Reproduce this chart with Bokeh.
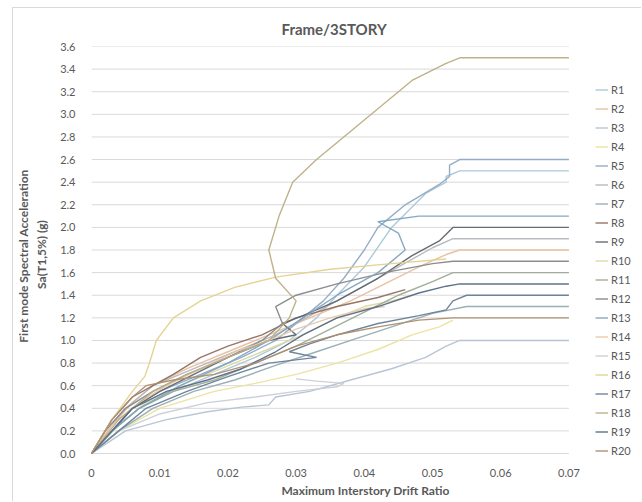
from bokeh.plotting import figure
from bokeh.models import Legend, LegendItem, NumeralTickFormatter, FixedTicker, Range1d
from bokeh.embed import file_html
from bokeh.resources import INLINE

# ---------------- data (drift ratio, Sa) per record ----------------
names = ["R1", "R2", "R3", "R4", "R5", "R6", "R7", "R8", "R9", "R10",
         "R11", "R12", "R13", "R14", "R15", "R16", "R17", "R18", "R19", "R20"]
colors = ["#a9c6d8", "#e8bf9e", "#b3c3d3", "#ebe29f", "#8fa9c2", "#b4b6bd",
          "#93acb3", "#8f6f60", "#5e656e", "#dcd8a2", "#9caa94", "#85878c",
          "#7fa3bf", "#e8c7aa", "#c9ced6", "#e4d18d", "#687e96", "#bcae84",
          "#566b86", "#ad8c6c"]

R1_drift = [0, 0.003, 0.007, 0.012, 0.018, 0.024, 0.029, 0.033, 0.036, 0.040, 0.044, 0.049, 0.052, 0.052, 0.054, 0.07]
R1_sa = [0, 0.2, 0.4, 0.55, 0.7, 0.85, 1.0, 1.2, 1.4, 1.65, 2.0, 2.3, 2.4, 2.45, 2.5, 2.5]
R2_drift = [0, 0.003, 0.006, 0.009, 0.014, 0.020, 0.026, 0.032, 0.038, 0.043, 0.048, 0.052, 0.054, 0.07]
R2_sa = [0, 0.25, 0.45, 0.6, 0.75, 0.9, 1.05, 1.2, 1.35, 1.5, 1.65, 1.76, 1.8, 1.8]
R3_drift = [0, 0.005, 0.011, 0.017, 0.022, 0.026, 0.027, 0.032, 0.038, 0.044, 0.049, 0.052, 0.054, 0.07]
R3_sa = [0, 0.2, 0.3, 0.37, 0.41, 0.43, 0.5, 0.55, 0.65, 0.75, 0.85, 0.95, 1.0, 1.0]
R4_drift = [0, 0.004, 0.010, 0.018, 0.024, 0.030, 0.036, 0.042, 0.047, 0.051, 0.053]
R4_sa = [0, 0.2, 0.4, 0.55, 0.62, 0.7, 0.8, 0.92, 1.05, 1.12, 1.18]
R5_drift = [0, 0.003, 0.006, 0.010, 0.016, 0.022, 0.027, 0.031, 0.034, 0.037, 0.040, 0.042, 0.046, 0.051, 0.0525, 0.0525, 0.054, 0.07]
R5_sa = [0, 0.2, 0.4, 0.55, 0.7, 0.85, 1.0, 1.2, 1.35, 1.55, 1.8, 2.0, 2.2, 2.38, 2.45, 2.55, 2.6, 2.6]
R6_drift = [0, 0.002, 0.005, 0.009, 0.015, 0.021, 0.027, 0.033, 0.039, 0.045, 0.050, 0.053, 0.07]
R6_sa = [0, 0.2, 0.4, 0.6, 0.75, 0.9, 1.05, 1.25, 1.45, 1.65, 1.82, 1.9, 1.9]
R7_drift = [0, 0.004, 0.009, 0.015, 0.021, 0.027, 0.033, 0.039, 0.045, 0.050, 0.055, 0.07]
R7_sa = [0, 0.2, 0.4, 0.55, 0.65, 0.78, 0.9, 1.02, 1.14, 1.24, 1.3, 1.3]
R8_drift = [0, 0.003, 0.006, 0.009, 0.012, 0.016, 0.020, 0.025, 0.030, 0.036, 0.042, 0.046]
R8_sa = [0, 0.3, 0.5, 0.6, 0.7, 0.85, 0.95, 1.05, 1.2, 1.3, 1.38, 1.45]
R9_drift = [0, 0.003, 0.006, 0.010, 0.015, 0.020, 0.026, 0.030, 0.028, 0.031, 0.036, 0.042, 0.047, 0.051, 0.053, 0.07]
R9_sa = [0, 0.2, 0.4, 0.55, 0.7, 0.85, 1.0, 1.05, 1.15, 1.22, 1.35, 1.55, 1.75, 1.88, 2.0, 2.0]
R10_drift = [0, 0.004, 0.008, 0.013, 0.019, 0.025, 0.031, 0.036, 0.040, 0.044, 0.047]
R10_sa = [0, 0.25, 0.45, 0.6, 0.75, 0.9, 1.05, 1.2, 1.3, 1.35, 1.4]
R11_drift = [0, 0.003, 0.007, 0.012, 0.018, 0.024, 0.030, 0.035, 0.040, 0.045, 0.050, 0.053, 0.07]
R11_sa = [0, 0.2, 0.4, 0.55, 0.65, 0.8, 0.95, 1.1, 1.25, 1.4, 1.52, 1.6, 1.6]
R12_drift = [0, 0.002, 0.005, 0.009, 0.014, 0.020, 0.025, 0.028, 0.027, 0.030, 0.036, 0.043, 0.050, 0.053, 0.07]
R12_sa = [0, 0.2, 0.4, 0.55, 0.7, 0.85, 1.0, 1.15, 1.3, 1.4, 1.5, 1.6, 1.68, 1.7, 1.7]
R13_drift = [0, 0.003, 0.007, 0.013, 0.020, 0.026, 0.031, 0.036, 0.042, 0.046, 0.045, 0.042, 0.048, 0.052, 0.07]
R13_sa = [0, 0.2, 0.4, 0.6, 0.8, 1.0, 1.2, 1.4, 1.6, 1.8, 1.95, 2.05, 2.1, 2.1, 2.1]
R14_drift = [0, 0.003, 0.007, 0.011, 0.016, 0.021, 0.026, 0.030, 0.035, 0.040, 0.043]
R14_sa = [0, 0.25, 0.45, 0.6, 0.75, 0.9, 1.0, 1.1, 1.2, 1.28, 1.3]
R15_drift = [0, 0.004, 0.010, 0.017, 0.024, 0.030, 0.036, 0.037, 0.033, 0.030]
R15_sa = [0, 0.2, 0.35, 0.45, 0.5, 0.55, 0.59, 0.62, 0.64, 0.66]
R16_drift = [0, 0.003, 0.006, 0.0078, 0.0085, 0.0095, 0.012, 0.016, 0.021, 0.027, 0.035, 0.044, 0.052]
R16_sa = [0, 0.3, 0.55, 0.68, 0.8, 1.0, 1.2, 1.35, 1.47, 1.56, 1.63, 1.68, 1.72]
R17_drift = [0, 0.004, 0.008, 0.014, 0.020, 0.026, 0.033, 0.029, 0.032, 0.036, 0.042, 0.048, 0.052, 0.053, 0.055, 0.07]
R17_sa = [0, 0.2, 0.4, 0.55, 0.68, 0.8, 0.85, 0.9, 0.97, 1.05, 1.15, 1.22, 1.27, 1.35, 1.4, 1.4]
R18_drift = [0, 0.004, 0.009, 0.014, 0.020, 0.026, 0.029, 0.030, 0.027, 0.026, 0.0275, 0.0295, 0.033, 0.040, 0.047, 0.052, 0.054, 0.07]
R18_sa = [0, 0.3, 0.55, 0.7, 0.85, 1.0, 1.2, 1.35, 1.55, 1.8, 2.1, 2.4, 2.6, 2.95, 3.3, 3.45, 3.5, 3.5]
R19_drift = [0, 0.003, 0.006, 0.011, 0.017, 0.022, 0.027, 0.031, 0.036, 0.042, 0.048, 0.052, 0.054, 0.07]
R19_sa = [0, 0.2, 0.4, 0.55, 0.65, 0.75, 0.9, 1.05, 1.2, 1.3, 1.42, 1.48, 1.5, 1.5]
R20_drift = [0, 0.003, 0.006, 0.008, 0.012, 0.018, 0.024, 0.030, 0.036, 0.042, 0.048, 0.053, 0.07]
R20_sa = [0, 0.3, 0.5, 0.6, 0.65, 0.7, 0.8, 0.95, 1.05, 1.12, 1.18, 1.2, 1.2]

drifts = [R1_drift, R2_drift, R3_drift, R4_drift, R5_drift, R6_drift, R7_drift, R8_drift, R9_drift, R10_drift,
          R11_drift, R12_drift, R13_drift, R14_drift, R15_drift, R16_drift, R17_drift, R18_drift, R19_drift, R20_drift]
sas = [R1_sa, R2_sa, R3_sa, R4_sa, R5_sa, R6_sa, R7_sa, R8_sa, R9_sa, R10_sa,
       R11_sa, R12_sa, R13_sa, R14_sa, R15_sa, R16_sa, R17_sa, R18_sa, R19_sa, R20_sa]

x_ticks = [0, 0.01, 0.02, 0.03, 0.04, 0.05, 0.06, 0.07]
y_ticks = [0.0, 0.2, 0.4, 0.6, 0.8, 1.0, 1.2, 1.4, 1.6, 1.8, 2.0, 2.2, 2.4, 2.6, 2.8, 3.0, 3.2, 3.4, 3.6]

FONT = "Lato"
GRAY = "#595959"
GRID = "#d9d9d9"

# layout (pixels): the plotting area is widened to hold the legend on its right
W, H = 629, 494
LEFT, TOP = 75, 37
DATA_W = 480                      # pixels spanned by the x ticks
FRAME_W = W - LEFT                # 554
PX_PER_UNIT_Y = 408 / 3.6
PAD_BOTTOM_PX = 9
x_end = x_ticks[-1] * FRAME_W / DATA_W
y_start = -PAD_BOTTOM_PX / PX_PER_UNIT_Y
FRAME_H = 408 + PAD_BOTTOM_PX

p = figure(width=W, height=H, output_backend="svg", toolbar_location=None,
           x_range=Range1d(0, x_end), y_range=Range1d(y_start, y_ticks[-1]),
           min_border_left=LEFT, min_border_right=0, min_border_top=TOP,
           min_border_bottom=H - TOP - FRAME_H)
p.margin = (7, 0, 0, 12)
p.styles = {"border-top": "1px solid " + GRID, "border-left": "1px solid " + GRID}
p.outline_line_color = None
p.background_fill_color = "white"
p.border_fill_color = "white"

p.title.text = "Frame/3STORY"
p.title.align = "left"
p.title.offset = (DATA_W / 2) - 50
p.title.text_font = FONT
p.title.text_font_size = "15px"
p.title.text_font_style = "bold"
p.title.text_color = GRAY
p.title.standoff = 18

p.xaxis.ticker = FixedTicker(ticks=x_ticks)
p.yaxis.ticker = FixedTicker(ticks=y_ticks)
p.xaxis.formatter = NumeralTickFormatter(format="0.[00]")
p.yaxis.formatter = NumeralTickFormatter(format="0.0")
for ax in (p.xaxis, p.yaxis):
    ax.major_tick_line_color = None
    ax.minor_tick_line_color = None
    ax.axis_line_color = None
    ax.major_label_text_font = FONT
    ax.major_label_text_font_size = "11px"
    ax.major_label_text_color = GRAY
    ax.axis_label_text_font = FONT
    ax.axis_label_text_font_size = "12px"
    ax.axis_label_text_font_style = "bold"
    ax.axis_label_text_color = GRAY
p.xaxis.major_label_standoff = 0
p.yaxis.major_label_standoff = 10
p.xaxis.axis_label = "Maximum  Interstory Drift Ratio"
p.xaxis.axis_label_standoff = 3
p.yaxis.axis_label = "First  mode Spectral Acceleration\nSa(T1,5%) (g)"
p.yaxis.axis_label_standoff = 8

p.xgrid.grid_line_color = None
p.ygrid.grid_line_color = None
# horizontal gridlines spanning only the tick range 0..0.07
p.segment(x0=[x_ticks[0]] * len(y_ticks), x1=[x_ticks[-1]] * len(y_ticks),
          y0=y_ticks, y1=y_ticks, line_color=GRID, line_width=1)

items = []
for name, col, xs, ys in zip(names, colors, drifts, sas):
    r = p.line(xs, ys, line_color=col, line_width=1.4, line_alpha=0.95)
    items.append(LegendItem(label=name, renderers=[r]))

legend = Legend(items=items, location=(DATA_W + 24, 2))
legend.border_line_color = None
legend.background_fill_alpha = 0
legend.label_text_font = FONT
legend.label_text_font_size = "11px"
legend.label_text_color = GRAY
legend.glyph_width = 13
legend.glyph_height = 19
legend.label_height = 19
legend.spacing = 0
legend.padding = 0
legend.margin = 0
legend.label_standoff = 3
p.add_layout(legend)

open("out.html", "w").write(file_html(p, INLINE))
